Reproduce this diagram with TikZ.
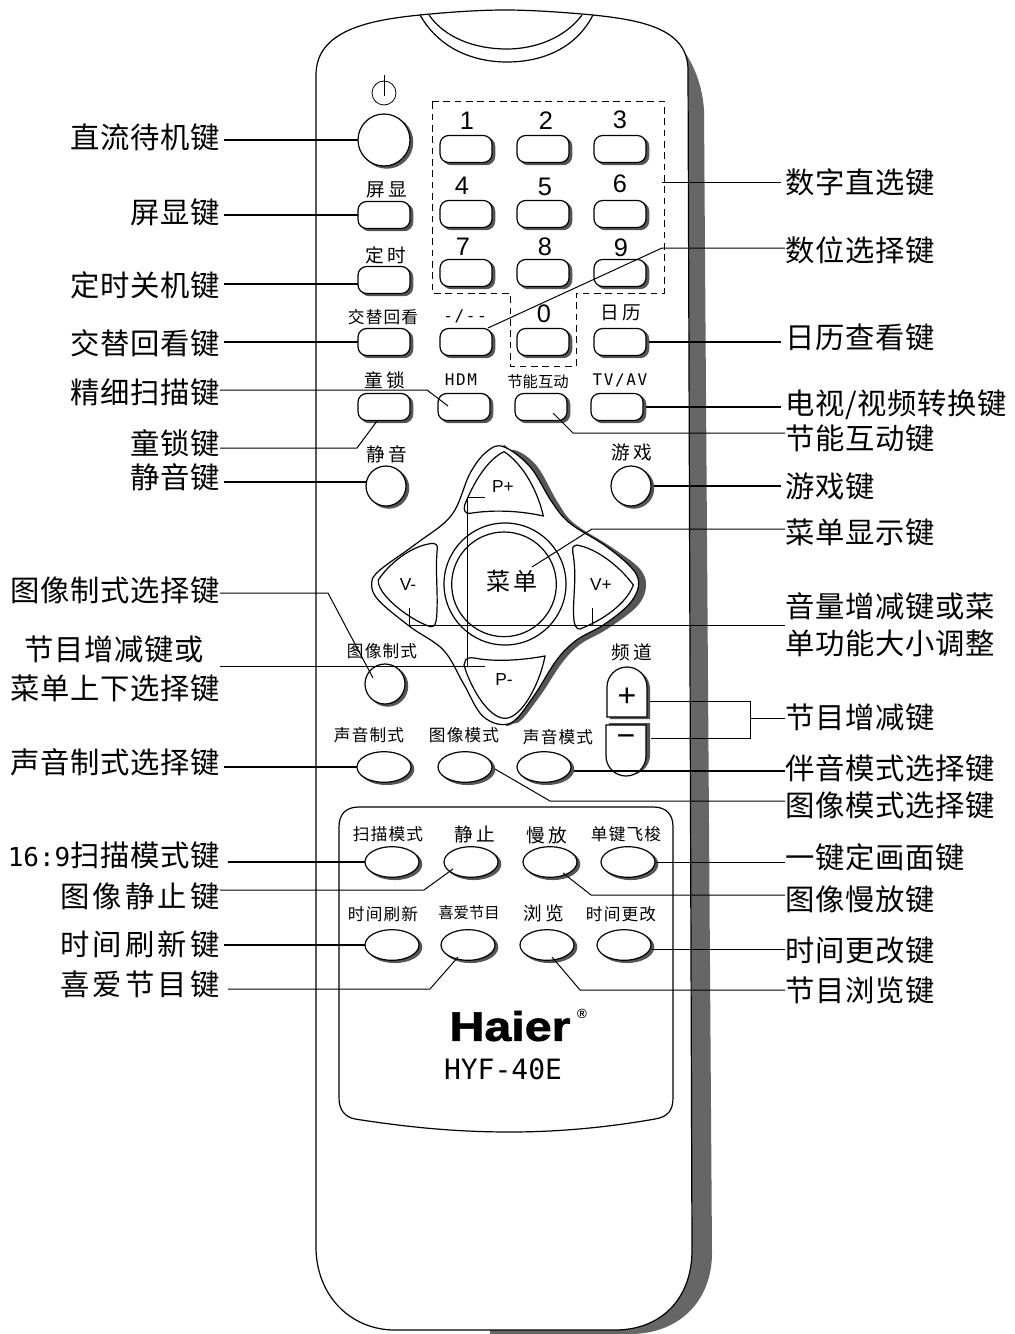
\documentclass[tikz,border=0pt]{standalone}
\usepackage{fontspec}
\usetikzlibrary{shapes.geometric,shadows}
\setmainfont{Liberation Sans}
\newfontfamily\cjklab[LetterSpace=2.3]{Noto Sans CJK SC}
\newfontfamily\cjkwide[LetterSpace=11]{Noto Sans CJK SC}
\newfontfamily\cjkkey[LetterSpace=7]{Noto Sans CJK SC}
\newfontfamily\cjkkeyw[LetterSpace=15]{Noto Sans CJK SC}
\newfontfamily\cjktight{Noto Sans CJK SC}
\newfontfamily\monolab{DejaVu Sans Mono}
\newfontfamily\monokey[LetterSpace=10]{DejaVu Sans Mono}
\newfontfamily\logofont[FakeBold=1.6]{Liberation Sans Bold}
\definecolor{bodyshadow}{RGB}{102, 102, 102}
\definecolor{keyshadow}{RGB}{85, 85, 85}
\tikzset{
  keyline/.style={draw=black, fill=white, line width=0.9pt, inner sep=0pt, outer sep=0pt,
    copy shadow={shadow xshift=2pt, shadow yshift=-1.6pt, draw=keyshadow, fill=keyshadow}},
  numkey/.style={keyline, rectangle, rounded corners=6.5pt, minimum width=39pt, minimum height=20.25pt},
  ovalkey/.style={keyline, ellipse, minimum width=40.5pt, minimum height=23pt},
  roundkey/.style={keyline, circle, minimum size=30pt},
  digit/.style={inner sep=0pt, font=\fontsize{19}{19}\selectfont},
  padtext/.style={inner sep=0pt, font=\fontsize{13}{13}\selectfont},
  keylab/.style={inner sep=0pt, font=\fontsize{12.5}{12.5}\cjkkey},
  keylabw/.style={inner sep=0pt, font=\fontsize{14}{14}\cjkkeyw},
  keylabt/.style={inner sep=0pt, font=\fontsize{11.5}{11.5}\cjktight},
  monotext/.style={inner sep=0pt, font=\fontsize{12}{12}\monokey},
  leftlab/.style={anchor=east, inner sep=0pt, font=\fontsize{22}{22}\cjklab},
  leftwide/.style={anchor=east, inner sep=0pt, font=\fontsize{22}{22}\cjkwide},
  rightlab/.style={anchor=west, inner sep=0pt, font=\fontsize{22}{22}\cjklab},
  lead/.style={draw=black, line width=0.75pt},
  leadb/.style={draw=black, line width=1.3pt}
}
\begin{document}
\begin{tikzpicture}[x=0.75pt,y=-0.75pt]
\useasboundingbox (0,0) rectangle (1014,1334);
% remote body
\fill[bodyshadow] (672,36) .. controls (690,55) and (702,80) .. (704,110) -- (712,1253)
    .. controls (712,1300) and (680,1334) .. (630,1334) -- (490,1334) -- (490,1300) -- cycle;
\draw[fill=white, line width=0.9pt] (316,75) .. controls (316,30) and (370,20) .. (420,15)
    .. controls (450,12) and (480,10) .. (505,10) .. controls (530,10) and (560,12) .. (593,15)
    .. controls (640,20) and (688,28) .. (688,70) -- (692,1250)
    .. controls (692,1300) and (660,1330) .. (615,1330) -- (395,1330)
    .. controls (350,1330) and (316,1295) .. (316,1247) -- cycle;
\draw[line width=0.9pt] (420,15) .. controls (440,50) and (475,62) .. (507,62) .. controls (540,62) and (575,50) .. (593,15);
\draw[line width=0.9pt] (429,15) .. controls (445,38) and (475,49) .. (507,49) .. controls (535,49) and (565,38) .. (582,15);
% lower panel
\draw[line width=0.9pt] (359,807) -- (653,807) .. controls (667,807) and (673,815) .. (673,827) -- (673,1098)
    .. controls (673,1110) and (668,1117) .. (655,1119) .. controls (610,1127) and (560,1132) .. (510,1132)
    .. controls (450,1132) and (400,1126) .. (355,1119) .. controls (345,1117) and (339,1110) .. (339,1098)
    -- (339,827) .. controls (339,815) and (345,807) .. (359,807) -- cycle;
% digit area
\draw[line width=0.7pt, dash pattern=on 5pt off 3.5pt] (432,101) -- (664,101) -- (664,293) -- (576,293)
    -- (576,366) -- (510,366) -- (510,293) -- (432,293) -- cycle;
% power key
\node[keyline, circle, minimum size=39pt] (power) at (384,140) {};
\draw[line width=0.6pt] (384,93) circle (12);
\draw[line width=0.6pt] (384,75) -- (384,96);
% digit keys
\foreach \n/\cx/\cy/\dx/\dy in {1/466/149/467/121, 2/543/149/546/121, 3/620/149/620/120,
    4/466/214/462/186, 5/543/214/545/187, 6/620/214/620/184,
    7/466/273/463/247, 8/543/273/545/247, 9/620/273/621/248, 0/543/342/544/314} {
  \node[numkey] (key\n) at (\cx,\cy) {};
  \node[digit] (dig\n) at (\dx,\dy) {\n};
}
\node[numkey] (keyosd) at (384,215) {};
\node[numkey] (keytimer) at (384,280) {};
\node[numkey] (keyswap) at (384,342) {};
\node[numkey] (keydash) at (466,342) {};
\node[numkey] (keycal) at (620,342) {};
\node[numkey] (keylock) at (384,407) {};
\node[numkey] (keyhdm) at (464,407) {};
\node[numkey] (keyeco) at (541,407) {};
\node[numkey] (keytv) at (617,407) {};
\node[keylabw] (txosd) at (387,190) {屏显};
\node[keylabw] (txtimer) at (386,255) {定时};
\node[keylab] (txswap) at (383,317) {交替回看};
\node[monotext] (txdash) at (465,316) {-/--};
\node[keylabw] (txcal) at (621,313) {日历};
\node[keylabw] (txlock) at (385,380) {童锁};
\node[monotext] (txhdm) at (461,380) {HDM};
\node[keylabt] (txeco) at (538,382) {节能互动};
\node[monotext] (txtv) at (620,380) {TV/AV};
\node[roundkey] (keymute) at (386,486) {};
\node[roundkey] (keygame) at (631,486) {};
\node[roundkey] (keypic) at (385,684) {};
\node[keylabw] (txmute) at (387,454) {静音};
\node[keylabw] (txgame) at (632,452) {游戏};
\node[keylab] (txpic) at (382,651) {图像制式};
\node[keylabw] (txchan) at (632,652) {频道};
% direction pad
\begin{scope}[shift={(320,430)},x=0.25pt,y=-0.25pt]
\fill[keyshadow] plot[smooth cycle,tension=0.6] coordinates {(575,60) (648,105) (712,215) (762,280) (872,350) (958,415) (978,470)
    (950,530) (860,598) (782,642) (725,700) (655,805) (585,880) (540,800) (540,120)};
\draw[fill=white, line width=0.9pt] plot[smooth cycle,tension=0.6] coordinates {(550,50) (630,110) (695,215) (750,280) (860,350) (940,420) (955,470)
    (925,525) (850,585) (770,630) (710,690) (640,800) (570,880) (490,860) (430,760) (370,660) (270,590) (175,510) (155,460) (180,420) (290,340) (395,255) (450,130) (500,65)};
\draw[fill=white, line width=0.9pt] (552,65) .. controls (600,95) and (650,170) .. (670,258) .. controls (590,240) and (510,240) .. (450,250)
    .. controls (435,252) and (430,240) .. (434,225) .. controls (460,160) and (500,90) .. (552,65) -- cycle;
\draw[fill=white, line width=0.9pt] (437,690) .. controls (445,680) and (460,683) .. (480,687) .. controls (540,695) and (610,690) .. (675,678)
    .. controls (660,760) and (605,865) .. (555,865) .. controls (505,865) and (450,770) .. (432,705) -- cycle;
\draw[fill=white, line width=0.9pt] (340,340) .. controls (270,345) and (200,410) .. (175,450) .. controls (170,490) and (260,565) .. (330,590)
    .. controls (345,592) and (348,580) .. (350,560) .. controls (355,490) and (345,420) .. (352,355) .. controls (352,345) and (348,340) .. (340,340) -- cycle;
\draw[fill=white, line width=0.9pt] (770,345) .. controls (830,355) and (900,410) .. (940,465) .. controls (920,520) and (850,570) .. (780,597)
    .. controls (768,598) and (762,585) .. (761,560) .. controls (758,500) and (772,440) .. (758,365) .. controls (756,350) and (762,345) .. (770,345) -- cycle;
\draw[line width=0.9pt] (555,462) circle (183);
\draw[line width=0.9pt] (552,463) circle (157);
\end{scope}
\node[inner sep=0pt, font=\fontsize{18}{18}\cjkwide] (txmenu) at (512,581) {菜单};
\node[padtext] (txpup) at (503,487) {P+};
\node[padtext] (txpdn) at (504,680) {P-};
\node[padtext] (txvdn) at (408,585) {V-};
\node[padtext] (txvup) at (601,585) {V+};
% channel keys
\fill[keyshadow] (610,719) -- (610,689) arc (180:360:20) -- (650,719) -- cycle;
\draw[fill=white, line width=0.9pt] (607,717) -- (607,687) arc (180:360:20) -- (647,717) -- cycle;
\fill[keyshadow] (609,723) -- (650,723) -- (650,755) arc (0:180:20) -- cycle;
\draw[fill=white, line width=0.9pt] (606,725) -- (646,725) -- (646,756) arc (0:180:20) -- cycle;
\node[inner sep=0pt, font=\fontsize{24}{24}\selectfont] (txplus) at (627,697) {+};
\node[inner sep=0pt, font=\fontsize{24}{24}\selectfont] (txminus) at (626,741) {−};
% oval keys
\node[ovalkey] (keysnd) at (384,767) {};
\node[ovalkey] (keyimg) at (465,767) {};
\node[ovalkey] (keyaud) at (544,767) {};
\node[keylab] (txsnd) at (369,735) {声音制式};
\node[keylab] (tximg) at (464,735) {图像模式};
\node[keylab] (txaud) at (558,737) {声音模式};
\foreach \nm/\cx/\cy in {scan/392/862, still/471/862, slow/550/862, fly/628/862,
    clock/392/945, fav/468/945, browse/547/945, setclock/624/945}
  \node[ovalkey] (key\nm) at (\cx,\cy) {};
\node[keylab] (txscan) at (388,834) {扫描模式};
\node[keylabw] (txstill) at (475,834) {静止};
\node[keylabw] (txslow) at (547,835) {慢放};
\node[keylab] (txfly) at (626,834) {单键飞梭};
\node[keylab] (txclock) at (383,914) {时间刷新};
\node[keylabt] (txfav) at (469,913) {喜爱节目};
\node[keylabw] (txbrowse) at (544,913) {浏览};
\node[keylab] (txsetclock) at (621,914) {时间更改};
% logo
\node[inner sep=0pt, xscale=1.17, font=\fontsize{31}{31}\logofont] (logo) at (510,1026) {Haier};
\node[inner sep=0pt, font=\fontsize{10}{10}\bfseries\selectfont] (logor) at (582,1014) {®};
\node[inner sep=0pt, font=\fontsize{21}{21}\monolab] (model) at (503,1069) {HYF-40E};
% left labels
\node[leftlab] (lbpower) at (220,137) {直流待机键};
\node[leftlab] (lbosd) at (220,212) {屏显键};
\node[leftlab] (lbtimer) at (220,285) {定时关机键};
\node[leftlab] (lbswap) at (220,343) {交替回看键};
\node[leftlab] (lbfine) at (220,392) {精细扫描键};
\node[leftlab] (lblock) at (220,443) {童锁键};
\node[leftlab] (lbmute) at (220,477) {静音键};
\node[leftlab] (lbpic) at (220,590) {图像制式选择键};
\node[leftlab, anchor=center] (lbprog) at (114,649) {节目增减键或};
\node[leftlab] (lbprogb) at (220,688) {菜单上下选择键};
\node[leftlab] (lbsnd) at (220,762) {声音制式选择键};
\node[leftlab] (lbscan) at (220,855) {{\fontsize{19.5}{19.5}\monolab 16:9}扫描模式键};
\node[leftwide] (lbstill) at (220,896) {图像静止键};
\node[leftwide] (lbclock) at (220,944) {时间刷新键};
\node[leftwide] (lbfav) at (220,984) {喜爱节目键};
% right labels
\node[rightlab] (rbdigit) at (785,182) {数字直选键};
\node[rightlab] (rbdash) at (785,250) {数位选择键};
\node[rightlab] (rbcal) at (785,337) {日历查看键};
\node[rightlab] (rbtv) at (785,405) {电视/视频转换键};
\node[rightlab] (rbeco) at (785,438) {节能互动键};
\node[rightlab] (rbgame) at (785,486) {游戏键};
\node[rightlab] (rbmenu) at (785,532) {菜单显示键};
\node[rightlab] (rbvol) at (785,606) {音量增减键或菜};
\node[rightlab] (rbvolb) at (785,643) {单功能大小调整};
\node[rightlab] (rbchan) at (785,717) {节目增减键};
\node[rightlab] (rbaud) at (785,768) {伴音模式选择键};
\node[rightlab] (rbimg) at (785,805) {图像模式选择键};
\node[rightlab] (rbfly) at (785,857) {一键定画面键};
\node[rightlab] (rbslow) at (785,899) {图像慢放键};
\node[rightlab] (rbset) at (785,950) {时间更改键};
\node[rightlab] (rbbrowse) at (785,990) {节目浏览键};
% connector ends
\coordinate (hdmbend) at (427,390);   \coordinate (hdmend) at (448,406);
\coordinate (lockbend) at (357,448);  \coordinate (lockend) at (377,421);
\coordinate (picbend) at (328,593);   \coordinate (picend) at (373,678);
\coordinate (stillbend) at (424,890); \coordinate (stillend) at (453,869);
\coordinate (favbend) at (430,989);   \coordinate (favend) at (458,957);
\coordinate (digitend) at (662,182);
\coordinate (dashbend) at (662,248);  \coordinate (dashend) at (488,328);
\coordinate (ecobend) at (573,433);   \coordinate (ecoend) at (553,413);
\coordinate (menubend) at (592,529);  \coordinate (menuend) at (532,567);
\coordinate (imgbend) at (550,801);   \coordinate (imgend) at (495,769);
\coordinate (slowbend) at (591,895);  \coordinate (slowend) at (563,873);
\coordinate (brbend) at (580,990);    \coordinate (brend) at (552,957);
\coordinate (ptop) at (485,497);      \coordinate (pbot) at (485,666);  \coordinate (pcorner) at (467,497);
\coordinate (vleft) at (409,608);     \coordinate (vright) at (592,608); \coordinate (vline) at (409,625);
\coordinate (chup) at (650,701);      \coordinate (chdn) at (651,738);   \coordinate (chjoin) at (750,718);
\coordinate (timerline) at (224,284); \coordinate (muteline) at (224,482);
% left connectors
\draw[leadb] ([xshift=3pt]lbpower.east |- power.west) -- (power.west);
\draw[leadb] ([xshift=3pt]lbosd.east |- keyosd.west) -- (keyosd.west);
\draw[leadb] (timerline) -- (timerline -| keytimer.west);
\draw[leadb] ([xshift=3pt]lbswap.east |- keyswap.west) -- (keyswap.west);
\draw[lead] (lbfine.east |- hdmbend) -- (hdmbend) -- (hdmend);
\draw[lead] (lblock.east |- lockbend) -- (lockbend) -- (lockend);
\draw[leadb] (muteline) -- (muteline -| keymute.west);
\draw[lead] (lbpic.east |- picbend) -- (picbend) -- (picend);
\draw[lead] (pbot -| lbprogb.east) -- (pbot);
\draw[lead] (pbot -| pcorner) -- (pcorner) -- (ptop);
\draw[leadb] ([xshift=3pt]lbsnd.east |- keysnd.west) -- (keysnd.west);
\draw[leadb] ([xshift=6pt]lbscan.east |- keyscan.west) -- (keyscan.west);
\draw[lead] (lbstill.east |- stillbend) -- (stillbend) -- (stillend);
\draw[leadb] ([xshift=3pt]lbclock.east |- keyclock.west) -- (keyclock.west);
\draw[lead] ([xshift=6pt]lbfav.east |- favbend) -- (favbend) -- (favend);
% right connectors
\draw[lead] (digitend) -- ([xshift=-3pt]rbdigit.west);
\draw[lead] (rbdash.west |- dashbend) -- (dashbend) -- (dashend);
\draw[leadb] ([xshift=2pt]keycal.east) -- ([xshift=-3pt]rbcal.west |- keycal.east);
\draw[leadb] ([xshift=2pt]keytv.east) -- ([xshift=-3pt]rbtv.west |- keytv.east);
\draw[lead] (rbeco.west |- ecobend) -- (ecobend) -- (ecoend);
\draw[leadb] ([xshift=2pt]keygame.east) -- ([xshift=-3pt]rbgame.west |- keygame.east);
\draw[lead] (rbmenu.west |- menubend) -- (menubend) -- (menuend);
\draw[lead] (vleft) -- (vline) -- (vline -| rbvol.west);
\draw[lead] (vright) -- (vline -| vright);
\draw[lead] (chup) -- (chup -| chjoin) -- (chdn -| chjoin) -- (chdn);
\draw[lead] (chjoin) -- (rbchan.west |- chjoin);
\draw[leadb] ([xshift=2pt,yshift=-3pt]keyaud.east) -- ([yshift=-3pt]keyaud.east -| rbaud.west);
\draw[lead] (rbimg.west |- imgbend) -- (imgbend) -- (imgend);
\draw[lead] ([xshift=1pt]keyfly.east) -- (keyfly.east -| rbfly.west);
\draw[lead] (rbslow.west |- slowbend) -- (slowbend) -- (slowend);
\draw[lead] ([xshift=1pt,yshift=-3pt]keysetclock.east) -- ([yshift=-3pt]keysetclock.east -| rbset.west);
\draw[lead] (rbbrowse.west |- brbend) -- (brbend) -- (brend);
\end{tikzpicture}
\end{document}
